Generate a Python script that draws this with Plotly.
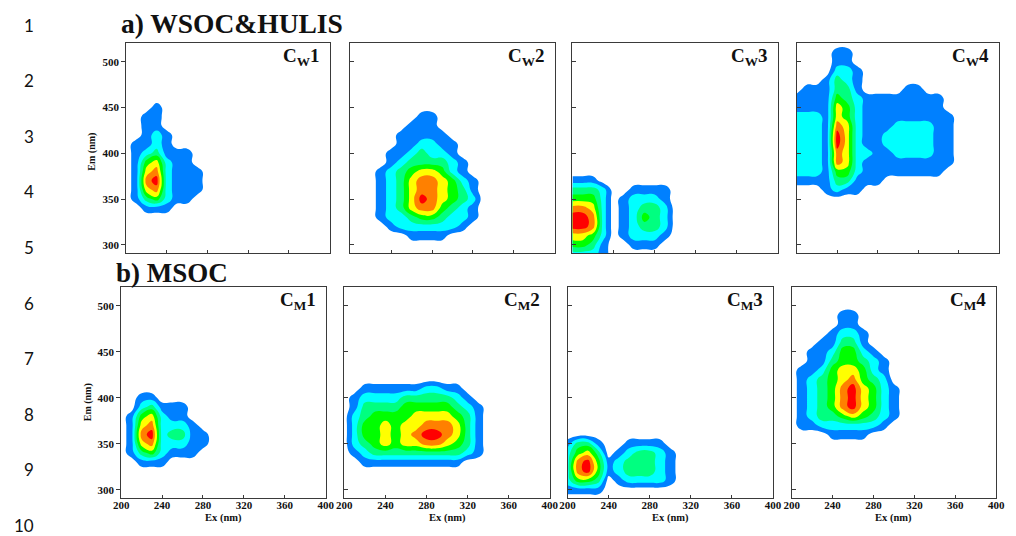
import plotly.graph_objects as go

# The page body has an 8 px margin, so the figure is drawn 8 px smaller and
# all pixel positions below are given in window coordinates.
PAGE_MARGIN = 8
W, H = 1016 - PAGE_MARGIN, 536 - PAGE_MARGIN

# ---------------- data ----------------
EX = list(range(200, 401, 10))   # excitation wavelength grid (nm), 21 columns
EM = list(range(290, 521, 10))   # emission wavelength grid (nm), 24 rows
EX_TICKS = [200, 240, 280, 320, 360, 400]
EM_TICKS = [300, 350, 400, 450, 500]

# Contour level at each grid point (0 = white ... 7 = red).
# One string per emission row, from Em 520 (first) down to Em 290 (last);
# characters are Ex 200, 210, 220, ... (missing trailing characters are 0).
CW1 = ["0"] * 7 + [
    "0001", "0011", "0011", "00121", "01121", "0123111", "0145211",
    "01562111", "01672111", "01562111", "0134211", "00111",
] + ["0"] * 5
CW2 = ["0"] * 8 + [
    "000000011", "000000111", "0000011111", "00000112211", "00001123221",
    "000012333321", "000123455421", "0001235665421", "0001235665431",
    "0001235765432", "0001235664321", "0001223443221", "000012222221",
    "0000001111",
] + ["0"] * 2
CW3 = ["0"] * 15 + [
    "111", "3332001111", "4442012221", "6652012332", "7762012432",
    "7762012332", "5542012221", "4431001110", "2221",
]
CW4 = [
    "0", "000011", "000011", "0000221", "0001321", "0111331000011",
    "111143211111111", "111154211111111", "2221542111111111",
    "2221652111222211", "2221752112222211", "2221752112222211",
    "2221652211222211", "2221652111111111", "222144211111111",
    "111133111", "0001211",
] + ["0"] * 7
CM1 = ["0"] * 12 + [
    "0011", "0023111", "0145211", "01562221", "016723311", "015622211",
    "01342111", "00111",
] + ["0"] * 4
CM2 = ["0"] * 11 + [
    "001111112211", "0122223333321", "01333344444321", "02344445555431",
    "02445455666531", "02445456776531", "02345455665431", "01233333333321",
    "001111111111",
] + ["0"] * 4
CM3 = ["0"] * 17 + [
    "1331001111", "24530123321", "26741233321", "26741233321",
    "24430122221", "1111", "0",
]
CM4 = ["0"] * 3 + [
    "0000011", "0000011", "00001221", "00011331", "001124421", "0011344321",
    "0112455421", "0123456432", "01234675421", "01234675421", "01234675421",
    "01233454321", "0112222221", "00001111",
] + ["0"] * 7

PANEL_DATA = [CW1, CW2, CW3, CW4, CM1, CM2, CM3, CM4]
PANEL_LABELS = ["C<sub>W</sub>1", "C<sub>W</sub>2", "C<sub>W</sub>3", "C<sub>W</sub>4",
                "C<sub>M</sub>1", "C<sub>M</sub>2", "C<sub>M</sub>3", "C<sub>M</sub>4"]
ROW_TITLES = ["a) WSOC&amp;HULIS", "b) MSOC"]
LINE_NUMBERS = [str(i) for i in range(1, 11)]

LEVEL_COLORS = ["#FFFFFF", "#0080FF", "#00FFFF", "#00FF80",
                "#00FF00", "#FFFF00", "#FF8000", "#FF0000"]

# ---------------- layout geometry (window pixels) ----------------
TOP_X = [(120, 327), (348, 556), (574, 783), (802, 1008)]
BOT_X = [(115, 323), (342, 551), (569, 778), (797, 1005)]
TOP_Y = (43, 253)
BOT_Y = (287, 498)


def to_grid(rows):
    assert len(rows) == len(EM)
    z = [[int(c) for c in r.ljust(len(EX), "0")] for r in rows]
    return z[::-1]


def fx(px):
    return (px - PAGE_MARGIN) / W


def fy(py):
    return 1 - (py - PAGE_MARGIN) / H


colorscale = [[i / 7, c] for i, c in enumerate(LEVEL_COLORS)]
SERIF = "Liberation Serif"
AX_COLOR = "#3a3a3a"
TXT = "#111111"

fig = go.Figure()
layout = dict(
    width=W, height=H,
    margin=dict(l=0, r=0, t=0, b=0),
    paper_bgcolor="white", plot_bgcolor="white",
    showlegend=False,
)
annotations = []

for i, rows in enumerate(PANEL_DATA):
    n = i + 1
    top = i < 4
    x0, x1 = (TOP_X if top else BOT_X)[i % 4]
    y0, y1 = TOP_Y if top else BOT_Y
    first = (i % 4 == 0)
    fig.add_trace(go.Contour(
        x=EX, y=EM, z=to_grid(rows),
        autocontour=False,
        contours=dict(start=0.5, end=6.5, size=1, coloring="fill", showlines=False),
        line=dict(width=0, smoothing=1.3),
        colorscale=colorscale, showscale=False, hoverinfo="skip",
        xaxis=f"x{n}", yaxis=f"y{n}",
    ))
    layout[f"xaxis{n}"] = dict(
        domain=[fx(x0), fx(x1)], range=[200, 400], anchor=f"y{n}",
        tickvals=EX_TICKS, ticks="inside", ticklen=3, tickcolor=AX_COLOR,
        showticklabels=not top, ticklabelstandoff=-3,
        tickfont=dict(family=SERIF, size=11, color=TXT, weight="bold"),
        showline=True, mirror=True, linecolor=AX_COLOR, linewidth=1,
        showgrid=False, zeroline=False, fixedrange=True,
    )
    layout[f"yaxis{n}"] = dict(
        domain=[fy(y1), fy(y0)], range=[291, 520.5], anchor=f"x{n}",
        tickvals=EM_TICKS, ticks="outside" if first else "inside",
        ticklen=4, tickcolor=AX_COLOR, showticklabels=first,
        tickfont=dict(family=SERIF, size=11, color=TXT, weight="bold"),
        showline=True, mirror=True, linecolor=AX_COLOR, linewidth=1,
        showgrid=False, zeroline=False, fixedrange=True,
    )
    annotations.append(dict(
        x=fx(x1 - 8), y=fy(y0 + 14), xref="paper", yref="paper",
        xanchor="right", yanchor="middle", showarrow=False,
        text=f"<b>{PANEL_LABELS[i]}</b>",
        font=dict(family=SERIF, size=19, color=TXT),
    ))
    if first:
        annotations.append(dict(
            x=fx(x0 - (35 if top else 34)), y=fy((y0 + y1) / 2 + (4 if top else 10)),
            xref="paper", yref="paper", textangle=-90,
            xanchor="center", yanchor="middle", showarrow=False,
            text="<b>Em (nm)</b>", font=dict(family=SERIF, size=10, color=TXT),
        ))
    if not top:
        annotations.append(dict(
            x=fx((x0 + x1) / 2), y=fy(518), xref="paper", yref="paper",
            xanchor="center", yanchor="middle", showarrow=False,
            text="<b>Ex (nm)</b>", font=dict(family=SERIF, size=10.5, color=TXT),
        ))

# row titles
annotations.append(dict(x=fx(113), y=fy(24), xref="paper", yref="paper",
                        xanchor="left", yanchor="middle", showarrow=False,
                        text=f"<b>{ROW_TITLES[0]}</b>",
                        font=dict(family=SERIF, size=27.5, color=TXT)))
annotations.append(dict(x=fx(108), y=fy(273), xref="paper", yref="paper",
                        xanchor="left", yanchor="middle", showarrow=False,
                        text=f"<b>{ROW_TITLES[1]}</b>",
                        font=dict(family=SERIF, size=27, color=TXT)))

# manuscript line numbers in the left margin
for k, lab in enumerate(LINE_NUMBERS):
    annotations.append(dict(x=fx(28), y=fy(25 + k * 55.6), xref="paper", yref="paper",
                            xanchor="right", yanchor="middle", showarrow=False,
                            text=lab, font=dict(family="Lato", size=17, color=TXT)))

layout["annotations"] = annotations

fig.update_layout(**layout)
fig.write_html("out.html")
